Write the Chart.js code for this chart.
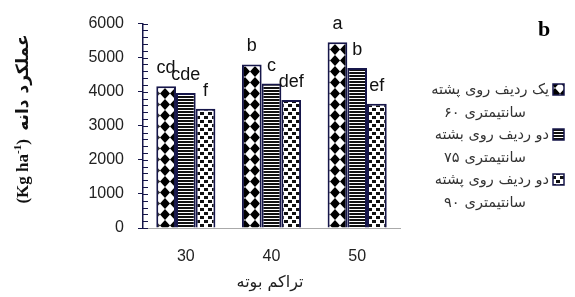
<!DOCTYPE html>
<html>
<head>
<meta charset="utf-8">
<script src="https://cdn.jsdelivr.net/npm/chart.js@4.4.1/dist/chart.umd.min.js"></script>
<style>
html, body { margin: 0; padding: 0; background: #fff; }
#wrap { width: 575px; height: 297px; }
</style>
</head>
<body>
<div id="wrap"><canvas id="grafico" width="575" height="297"></canvas></div>
<script>
// densita' (categorie)
var densita = ['30', '40', '50'];
// resa per sistema di semina
var resa60 = [4160, 4800, 5450];
var resa75 = [3960, 4240, 4700];
var resa90 = [3500, 3760, 3650];
// lettere del test
var lettere60 = ['cd', 'b', 'a'];
var lettere75 = ['cde', 'c', 'b'];
var lettere90 = ['f', 'def', 'ef'];
var yTicks = [0, 1000, 2000, 3000, 4000, 5000, 6000];
var legenda1 = ['یک ردیف روی پشته', '۶۰', 'سانتیمتری'];
var legenda2 = ['دو ردیف روی بشته', '۷۵', 'سانتیمتری'];
var legenda3 = ['دو ردیف روی پشته', '۹۰', 'سانتیمتری'];
var titoloX = 'تراکم بوته';
var titoloY = 'عملکرد دانه';

var navy = '#16164a';
var ctx = document.getElementById('grafico').getContext('2d');

function pattern(tipo) {
    var c = document.createElement('canvas');
    var g = c.getContext('2d');
    if (tipo == 'rombi') {
        c.width = 10; c.height = 11;
        g.fillStyle = '#fff'; g.fillRect(0, 0, 10, 11);
        g.fillStyle = '#000';
        g.beginPath();
        g.moveTo(5, 0); g.lineTo(10, 5.5); g.lineTo(5, 11); g.lineTo(0, 5.5);
        g.closePath(); g.fill();
    } else if (tipo == 'righe') {
        c.width = 4; c.height = 3;
        g.fillStyle = '#fff'; g.fillRect(0, 0, 4, 3);
        g.fillStyle = '#111'; g.fillRect(0, 0, 4, 2);
    } else {
        c.width = 8; c.height = 8;
        g.fillStyle = '#fff'; g.fillRect(0, 0, 8, 8);
        g.fillStyle = '#111';
        g.fillRect(0, 0, 4, 3);
        g.fillRect(4, 4, 4, 3);
    }
    return ctx.createPattern(c, 'repeat');
}

var lettere = [lettere60, lettere75, lettere90];
var legende = [legenda1, legenda2, legenda3];

var pluginExtra = {
    id: 'extra',
    afterDraw: function(chart) {
        var c = chart.ctx;
        var y = chart.scales.y;
        var x0 = y.right;
        c.save();
        // tacche minori a destra dell'asse
        c.strokeStyle = navy;
        c.lineWidth = 1;
        for (var v = 0; v <= 6000; v += 200) {
            var py = Math.round(y.getPixelForValue(v)) + 0.5;
            c.beginPath();
            c.moveTo(x0, py);
            c.lineTo(x0 + 5, py);
            c.stroke();
        }
        // lettere sopra le barre
        c.fillStyle = '#111';
        c.font = '18px "Liberation Sans", Arial, sans-serif';
        c.textAlign = 'center';
        c.textBaseline = 'middle';
        chart.data.datasets.forEach(function(ds, i) {
            var meta = chart.getDatasetMeta(i);
            meta.data.forEach(function(bar, j) {
                c.fillText(lettere[i][j], bar.x, bar.y - 18);
            });
        });
        // legenda a destra
        var ly = [90, 135, 180];
        chart.data.datasets.forEach(function(ds, i) {
            c.fillStyle = ds.backgroundColor;
            c.fillRect(553, ly[i] - 6, 11, 11);
            c.strokeStyle = navy;
            c.lineWidth = 1.5;
            c.strokeRect(553, ly[i] - 6, 11, 11);
            c.fillStyle = '#333';
            c.font = '14.5px "DejaVu Sans", sans-serif';
            c.textAlign = 'right';
            c.fillText(legende[i][0], 549, ly[i]);
            // seconda riga: numero a sinistra, parola a destra
            var wn = c.measureText(legende[i][1]).width;
            var wp = c.measureText(legende[i][2]).width;
            var sx = 485 - (wn + 5 + wp) / 2;
            c.textAlign = 'left';
            c.fillText(legende[i][1], sx, ly[i] + 23);
            c.fillText(legende[i][2], sx + wn + 5, ly[i] + 23);
        });
        // lettera del pannello
        c.fillStyle = '#000';
        c.font = 'bold 22px "Liberation Serif", serif';
        c.textAlign = 'center';
        c.fillText('b', 544, 30);
        // titolo asse x
        c.font = '16px "DejaVu Sans", sans-serif';
        c.fillStyle = '#222';
        c.fillText(titoloX, 270, 283);
        // titolo asse y, ruotato
        c.translate(24, 119);
        c.rotate(-Math.PI / 2);
        c.textAlign = 'left';
        c.fillStyle = '#111';
        var f1 = 'bold 17px "Liberation Serif", serif';
        var f2 = 'bold 11px "Liberation Serif", serif';
        var f3 = 'bold 17px "DejaVu Sans", sans-serif';
        c.font = f1; var w1 = c.measureText('(Kg ha').width;
        c.font = f2; var w2 = c.measureText('-1').width;
        c.font = f1; var w3 = c.measureText(')  ').width;
        c.font = f3; var w4 = c.measureText(titoloY).width;
        var px = -(w1 + w2 + w3 + w4) / 2;
        c.font = f1; c.fillText('(Kg ha', px, 0); px += w1;
        c.font = f2; c.fillText('-1', px, -6); px += w2;
        c.font = f1; c.fillText(')  ', px, 0); px += w3;
        c.font = f3; c.fillText(titoloY, px, 0);
        c.restore();
    }
};

var chart = new Chart(ctx, {
    type: 'bar',
    data: {
        labels: densita,
        datasets: [{
            label: legenda1.join(' '),
            data: resa60,
            backgroundColor: pattern('rombi'),
            borderColor: navy,
            borderWidth: 2
        }, {
            label: legenda2.join(' '),
            data: resa75,
            backgroundColor: pattern('righe'),
            borderColor: navy,
            borderWidth: 2
        }, {
            label: legenda3.join(' '),
            data: resa90,
            backgroundColor: pattern('punti'),
            borderColor: navy,
            borderWidth: 2
        }]
    },
    options: {
        responsive: false,
        animation: false,
        layout: { padding: { top: 22, right: 175, left: 0, bottom: 0 } },
        plugins: { legend: { display: false }, tooltip: { enabled: false } },
        datasets: { bar: { barPercentage: 1, categoryPercentage: 0.69 } },
        scales: {
            x: {
                grid: { display: false, drawTicks: false },
                border: { color: '#aaa', width: 1 },
                ticks: { color: '#222', padding: 19, font: { size: 16, family: '"Liberation Sans", Arial, sans-serif' } },
                afterFit: function(s) { s.height = 69; }
            },
            y: {
                min: 0,
                max: 6000,
                afterBuildTicks: function(s) {
                    s.ticks = yTicks.map(function(v) { return { value: v }; });
                },
                grid: { drawOnChartArea: false, drawTicks: true, tickLength: 5, color: navy },
                border: { color: navy, width: 1.5 },
                ticks: {
                    color: '#222', padding: 14,
                    font: { size: 16, family: '"Liberation Sans", Arial, sans-serif' },
                    callback: function(v) { return String(v); }
                },
                afterFit: function(s) { s.width = 143; }
            }
        }
    },
    plugins: [pluginExtra]
});
</script>
</body>
</html>
